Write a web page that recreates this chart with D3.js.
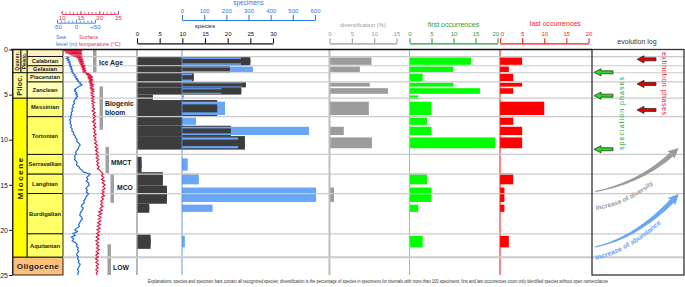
<!DOCTYPE html>
<html>
<head>
<meta charset="utf-8">
<script src="https://cdn.jsdelivr.net/npm/d3@7"></script>
<style>
  body { margin: 0; background: #fff; }
</style>
</head>
<body>
<div id="main"></div>
<script>
const ctx = { W: 685, H: 287, FONT: "Arial, 'Liberation Sans', sans-serif" };

// ---------- data (ages in Ma) ----------
const ageTicks = [0, 5, 10, 15, 20, 25];

const stageNames   = ["", "Calabrian", "Gelasian", "Piacenzian", "Zanclean", "Messinian", "Tortonian", "Serravallian", "Langhian", "Burdigalian", "Aquitanian"];
const stageTops    = [0, 0.78, 1.8, 2.58, 3.6, 5.4, 7.45, 11.63, 13.82, 15.97, 20.44];
const stageBottoms = [0.78, 1.8, 2.58, 3.6, 5.4, 7.45, 11.63, 13.82, 15.97, 20.44, 23.03];

const epochNames   = ["Quater.", "Plioc.", "Miocene", "Oligocene"];
const epochTops    = [0, 2.58, 5.4, 23.03];
const epochBottoms = [2.58, 5.4, 23.03, 25];

const eventNames   = ["Ice Age", "Biogenic bloom", "MMCT", "MCO", "LOW"];
const eventTops    = [0, 4.1, 10.8, 13.8, 21.6];
const eventBottoms = [2.58, 8.9, 13.7, 17.0, 25];

// sample intervals
const binTops      = [0.78, 1.8, 2.58, 3.6, 4.2, 5.0, 5.6, 7.45, 8.45, 9.6, 11.9, 13.6, 15.1, 17.1, 20.5];
const binBottoms   = [1.8, 2.58, 3.6, 4.2, 5.0, 5.6, 7.45, 8.45, 9.6, 11.1, 13.6, 15.1, 17.1, 18.1, 22.1];
const species      = [25, 20.5, 12.5, 24, 23, 3.5, 17.7, 10, 20.7, 23.8, 1, 5.7, 6.6, 2.7, 3];
const specimens    = [266, 320, 45, 270, 177, 9, 194, 63, 573, 253, 26, 76, 605, 138, 13];
const diversification = [9.4, 6.8, null, 9, 13.1, null, 8.8, null, 3.2, 9.5, null, null, 1, null, null];
const firstOcc     = [14, 10, 3, 10, 16, 2, 5, 4, 5, 19.5, 0, 4, 5, 2, 3];
const lastOcc      = [5, 2, 3, 5, 3, 0, 10, 3, 5, 5, 0, 3, 1, 1, 2];

const extinctionPhases = [1.09, 3.82, 6.7];
const speciationPhases = [2.53, 5.12, 11.06];

// [age, m]
const seaLevel = [[0.8,-24],[0.9,-20],[1.0,-25],[1.1,-19],[1.2,-22],[1.3,-17],[1.4,-20],[1.5,-15],[1.6,-18],[1.7,-14],[1.8,-16],[1.9,-12],[2.0,-15],[2.1,-11],[2.2,-13],[2.3,-9],[2.4,-12],[2.5,-8],[2.6,-10],[2.7,-6],[2.8,-3],[2.9,-5],[3.0,0],[3.1,-2],[3.2,3],[3.3,1],[3.4,6],[3.5,4],[3.6,8],[3.7,12],[3.8,10],[3.9,16],[4.0,13],[4.1,8],[4.2,4],[4.3,1],[4.4,-3],[4.5,-1],[4.6,-4],[4.7,0],[4.8,2],[4.9,-1],[5.0,3],[5.1,1],[5.2,4],[5.3,0],[5.4,2],[5.5,-2],[5.6,-3],[5.8,-6],[6.0,-4],[6.2,-9],[6.4,-7],[6.6,-11],[6.8,-9],[7.0,-13],[7.2,-11],[7.4,-15],[7.6,-13],[7.8,-17],[8.0,-14],[8.2,-16],[8.4,-12],[8.6,-14],[8.8,-10],[9.0,-11],[9.2,-6],[9.4,-7],[9.6,-2],[9.8,-1],[10.0,3],[10.2,2],[10.4,8],[10.6,11],[10.8,7],[11.0,6],[11.2,2],[11.4,-1],[11.6,1],[11.8,-4],[12.0,-2],[12.2,-4],[12.4,1],[12.6,3],[12.8,1],[13.0,8],[13.2,10],[13.4,16],[13.6,20],[13.8,37],[14.0,33],[14.2,28],[14.4,31],[14.6,27],[14.8,33],[15.0,35],[15.2,30],[15.4,26],[15.6,30],[15.8,27],[16.0,33],[16.2,29],[16.4,26],[16.6,24],[16.8,20],[17.0,22],[17.2,16],[17.4,14],[17.6,19],[17.8,17],[18.0,13],[18.2,11],[18.4,10],[18.6,15],[18.8,17],[19.0,12],[19.2,10],[19.4,7],[19.6,9],[19.8,2],[20.0,-3],[20.2,4],[20.4,-8],[20.6,-2],[20.8,-12],[21.0,-6],[21.2,-10],[21.4,-2],[21.6,3],[21.8,1],[22.0,6],[22.2,4],[22.4,7],[22.6,3],[22.8,2],[23.0,6],[23.2,4],[23.4,8],[23.6,6],[23.8,11],[24.0,9],[24.2,6],[24.4,4],[24.6,7],[24.8,5],[25.0,5]];

// [age, deg C]
const temperature = [[0,14.5],[0.03,11],[0.07,15],[0.1,10.5],[0.13,15.5],[0.17,11],[0.2,14.8],[0.24,10.8],[0.28,15.3],[0.31,11.5],[0.35,15.2],[0.39,11],[0.42,15.4],[0.46,11.8],[0.5,15],[0.54,12],[0.58,15.5],[0.62,12.5],[0.66,15],[0.7,13],[0.75,15.5],[0.8,13.5],[0.85,15.2],[0.9,14],[0.95,15.6],[1.0,14.2],[1.05,15.4],[1.1,14.3],[1.15,15.8],[1.2,14.6],[1.25,15.5],[1.3,14.4],[1.35,15.9],[1.4,14.8],[1.45,15.6],[1.5,14.7],[1.55,16],[1.6,14.9],[1.65,15.8],[1.7,15],[1.75,16.2],[1.8,15.1],[1.85,16.3],[1.9,15.2],[1.95,16],[2.0,15.3],[2.1,16.4],[2.15,15.4],[2.2,16.2],[2.25,15.5],[2.3,16.5],[2.35,15.6],[2.4,16.3],[2.5,15.8],[2.55,16.6],[2.6,16.2],[2.7,17.4],[2.75,16.5],[2.8,17.8],[2.9,16.8],[2.95,18.2],[3.0,17],[3.1,18.3],[3.15,16.9],[3.2,18],[3.3,17.2],[3.35,18.4],[3.4,17.3],[3.5,18],[3.6,17.4],[3.7,18.1],[3.8,17.6],[3.9,18.4],[4.0,17.7],[4.1,18.3],[4.25,17.6],[4.4,18.5],[4.5,17.9],[4.65,18.6],[4.8,17.8],[4.95,18.4],[5.1,17.9],[5.25,18.6],[5.4,18.0],[5.55,18.5],[5.7,18.0],[5.85,18.7],[6.0,18.1],[6.2,18.6],[6.4,18.2],[6.6,18.8],[6.8,18.1],[7.0,18.9],[7.2,18.3],[7.4,19],[7.6,18.4],[7.8,18.9],[8.0,18.2],[8.2,19],[8.4,18.5],[8.6,19.1],[8.8,18.4],[9.0,19],[9.2,18.6],[9.4,19.2],[9.6,18.5],[9.8,19.1],[10.0,18.7],[10.2,19.3],[10.4,18.8],[10.6,19.5],[10.8,18.9],[11.0,19.6],[11.2,19],[11.4,19.7],[11.6,19.1],[11.8,19.8],[12.0,19.2],[12.2,19.9],[12.4,19.3],[12.6,19.8],[12.8,19.4],[13.0,20],[13.2,19.5],[13.4,20.2],[13.6,20.6],[13.8,21.0],[14.0,20.6],[14.2,21.2],[14.4,20.6],[14.6,21.4],[14.8,20.8],[15.0,21.6],[15.2,21.0],[15.4,21.5],[15.6,20.8],[15.8,21.3],[16.0,20.7],[16.2,21.4],[16.4,20.6],[16.6,21.1],[16.8,20.4],[17.0,20.9],[17.2,20.4],[17.4,21],[17.6,20.2],[17.8,20.8],[18.0,19.9],[18.2,20.6],[18.4,19.7],[18.6,20.5],[18.8,19.8],[19.0,20.4],[19.2,19.6],[19.4,20.3],[19.6,19.5],[19.8,20.2],[20.0,19.4],[20.2,20.1],[20.4,19.3],[20.6,20],[20.8,19.2],[21.0,19.9],[21.2,19.1],[21.4,19.8],[21.6,19.2],[21.8,19.9],[22.0,19.3],[22.2,20],[22.4,19.2],[22.6,19.8],[22.8,19.1],[23.0,19.7],[23.2,19.0],[23.4,19.7],[23.6,19.1],[23.8,19.8],[24.0,19.2],[24.2,19.7],[24.4,19.1],[24.6,19.6],[24.8,19.2],[25.0,19.5]];

const footerText = "Explanations: species and specimen bars contain all recognized species;   diversification is the percentage of species in specimens for intervals with more than 100 specimens;   first and last occurrences count only identified species without open nomenclature";

// ---------- layout ----------
const stageColors = ["#fff3c6", "#fff2ba", "#ffedb3", "#ffffbf", "#ffffb3", "#ffff73", "#ffff66", "#ffff66", "#ffff66", "#ffff66", "#ffff66"];
const epochColors = ["#fff2ae", "#ffff99", "#ffff00", "#fdbf7c"];
const eventX = [93, 99.5, 105.5, 110.5, 107.5];
const eventLabelPos = [[99, 63], [105, 104], [111, 162.5], [117, 188], [113, 268]];

function createViz() {
  const F = ctx.FONT;
  const svg = d3.select("#main").append("svg")
    .attr("width", ctx.W).attr("height", ctx.H)
    .style("background", "#fff");

  const y = d3.scaleLinear().domain([0, 25]).range([49.5, 275]);
  const slX = d3.scaleLinear().domain([-50, 50]).range([57, 95]);
  const tX = d3.scaleLinear().domain([10, 25]).range([61.7, 118]);
  const sX = d3.scaleLinear().domain([0, 30]).range([137, 273]);
  const pX = d3.scaleLinear().domain([0, 600]).range([182, 315]);
  const dX = d3.scaleLinear().domain([0, 15]).range([329.5, 396.5]);
  const fX = d3.scaleLinear().domain([0, 20]).range([409.5, 497.5]);
  const lX = d3.scaleLinear().domain([0, 20]).range([500, 588.5]);

  const bins = binTops.map((t, i) => ({
    top: t, bot: binBottoms[i], sp: species[i], spec: specimens[i],
    div: diversification[i], fo: firstOcc[i], lo: lastOcc[i]
  }));
  const inset = (d, k) => Math.max(0.8, (y(d.bot) - y(d.top)) * k);

  // ---- stratigraphy column ----
  const strat = svg.append("g");
  strat.selectAll(".stage").data(stageNames).enter().append("rect")
    .attr("x", 27).attr("width", 36)
    .attr("y", (d, i) => y(stageTops[i]))
    .attr("height", (d, i) => y(stageBottoms[i]) - y(stageTops[i]))
    .attr("fill", (d, i) => stageColors[i])
    .attr("stroke", "#111").attr("stroke-width", 0.9);
  strat.selectAll(".stageLabel").data(stageNames).enter().append("text")
    .attr("x", 45)
    .attr("y", (d, i) => (y(stageTops[i]) + y(stageBottoms[i])) / 2)
    .attr("dy", "0.35em").attr("text-anchor", "middle")
    .attr("font-family", F).attr("font-size", 5.8).attr("font-weight", "bold")
    .attr("fill", "#222").text(d => d);

  epochNames.forEach((name, i) => {
    const wide = i === 3;
    const split = i === 0;
    strat.append("rect")
      .attr("x", 13).attr("width", wide ? 50 : (split ? 8 : 14))
      .attr("y", y(epochTops[i])).attr("height", y(epochBottoms[i]) - y(epochTops[i]))
      .attr("fill", epochColors[i]).attr("stroke", "#111").attr("stroke-width", 0.9);
    if (split) {
      strat.append("rect")
        .attr("x", 21).attr("width", 6)
        .attr("y", y(epochTops[i])).attr("height", y(epochBottoms[i]) - y(epochTops[i]))
        .attr("fill", epochColors[i]).attr("stroke", "#111").attr("stroke-width", 0.9);
    }
    const cy = (y(epochTops[i]) + y(epochBottoms[i])) / 2;
    if (wide) {
      strat.append("text").attr("x", 38).attr("y", cy).attr("dy", "0.35em")
        .attr("text-anchor", "middle").attr("font-family", F).attr("font-size", 8)
        .attr("font-weight", "bold").attr("letter-spacing", 0.4).attr("fill", "#222").text(name);
    } else {
      const cx = split ? 17 : 20;
      strat.append("text")
        .attr("transform", `translate(${cx},${cy}) rotate(-90)`)
        .attr("dy", "0.35em").attr("text-anchor", "middle")
        .attr("font-family", F).attr("font-weight", "bold")
        .attr("font-size", split ? 5 : (i === 1 ? 7 : 8))
        .attr("letter-spacing", i === 2 ? 1.6 : 0.3)
        .attr("fill", "#222").text(name);
      if (split) {
        strat.append("text")
          .attr("transform", `translate(24,${cy}) rotate(-90)`)
          .attr("dy", "0.35em").attr("text-anchor", "middle")
          .attr("font-family", F).attr("font-weight", "bold").attr("font-size", 4.6)
          .attr("fill", "#222").text("Pleisto.");
      }
    }
  });

  // age axis
  const yAxis = svg.append("g").attr("transform", "translate(12,0)")
    .call(d3.axisLeft(y).tickValues(ageTicks).tickSize(3).tickSizeOuter(0));
  yAxis.attr("font-family", F).attr("font-size", 7);
  yAxis.select(".domain").attr("stroke", "#222");
  yAxis.selectAll(".tick line").attr("stroke", "#222");
  yAxis.selectAll(".tick text").attr("fill", "#222").attr("x", -4);

  // ---- climatic events ----
  svg.selectAll(".event").data(eventNames).enter().append("rect")
    .attr("x", (d, i) => eventX[i]).attr("width", 3.5)
    .attr("y", (d, i) => y(eventTops[i]))
    .attr("height", (d, i) => y(eventBottoms[i]) - y(eventTops[i]))
    .attr("fill", "#a0a0a0");
  eventNames.forEach((name, i) => {
    const t = svg.append("text").attr("x", eventLabelPos[i][0]).attr("y", eventLabelPos[i][1])
      .attr("dy", "0.35em").attr("font-family", F).attr("font-size", 6.8)
      .attr("font-weight", "bold").attr("fill", "#222");
    const parts = name.split(" ");
    if (name === "Biogenic bloom") {
      t.append("tspan").attr("x", eventLabelPos[i][0]).text(parts[0]);
      t.append("tspan").attr("x", eventLabelPos[i][0]).attr("dy", 8.5).text(parts[1]);
    } else {
      t.text(name);
    }
  });

  // ---- species / specimen bars ----
  const bars = svg.append("g");
  bars.selectAll(".spFull").data(bins).enter().append("rect")
    .attr("x", sX(0)).attr("width", d => sX(d.sp) - sX(0))
    .attr("y", d => y(d.top)).attr("height", d => y(d.bot) - y(d.top))
    .attr("fill", "#3d3d3d");
  bars.selectAll(".spec").data(bins).enter().append("rect")
    .attr("x", pX(0)).attr("width", d => pX(d.spec) - pX(0))
    .attr("y", d => y(d.top) + inset(d, 0.1))
    .attr("height", d => y(d.bot) - y(d.top) - 2 * inset(d, 0.1))
    .attr("fill", "#6aa6f6");
  bars.selectAll(".spInner").data(bins).enter().append("rect")
    .attr("x", sX(0)).attr("width", d => sX(d.sp) - sX(0))
    .attr("y", d => y(d.top) + inset(d, 0.26))
    .attr("height", d => y(d.bot) - y(d.top) - 2 * inset(d, 0.26))
    .attr("fill", "#3d3d3d");

  const barSet = (data, scale, key, color) => {
    bars.selectAll(null).data(data.filter(d => d[key])).enter().append("rect")
      .attr("x", scale(0)).attr("width", d => scale(d[key]) - scale(0))
      .attr("y", d => y(d.top) + inset(d, 0.1))
      .attr("height", d => y(d.bot) - y(d.top) - 2 * inset(d, 0.1))
      .attr("fill", color);
  };
  barSet(bins, dX, "div", "#9c9c9c");
  barSet(bins, fX, "fo", "#00ff00");
  barSet(bins, lX, "lo", "#ff0000");

  // zero lines
  const zeroLine = (x, color, w) => svg.append("line")
    .attr("x1", x).attr("x2", x).attr("y1", y(0)).attr("y2", y(25))
    .attr("stroke", color).attr("stroke-width", w);
  zeroLine(sX(0), "#9a9a9a", 1.4);
  zeroLine(pX(0), "#4f8fe8", 0.9);
  zeroLine(dX(0), "#bdbdbd", 2);
  zeroLine(fX(0), "#66ee66", 1.1);
  zeroLine(lX(0), "#ff2020", 1.1);

  // stage grid lines
  svg.selectAll(".grid").data(stageBottoms).enter().append("line")
    .attr("x1", 63).attr("x2", 684)
    .attr("y1", d => y(d)).attr("y2", d => y(d))
    .attr("stroke", "#cbcbcb").attr("stroke-width", (d, i) => i === stageBottoms.length - 1 ? 2 : 1.2);

  // ---- sea level and temperature ----
  const slLine = d3.line().x(d => slX(d[1])).y(d => y(d[0]));
  const tLine = d3.line().x(d => tX(d[1])).y(d => y(d[0]));
  svg.append("path").attr("d", tLine(temperature))
    .attr("fill", "none").attr("stroke", "#e3173f").attr("stroke-width", 1.2);
  svg.append("path").attr("d", slLine(seaLevel))
    .attr("fill", "none").attr("stroke", "#1f6ad8").attr("stroke-width", 1.2);

  // top frame line
  svg.append("line").attr("x1", 11).attr("x2", 592).attr("y1", y(0)).attr("y2", y(0))
    .attr("stroke", "#111").attr("stroke-width", 1.6);

  // ---- top axes ----
  function styleAxis(g, color, fs) {
    g.attr("font-family", F).attr("font-size", fs);
    g.select(".domain").attr("stroke", color).attr("stroke-width", 1.2);
    g.selectAll(".tick line").attr("stroke", color).attr("stroke-width", 1.1);
    g.selectAll(".tick text").attr("fill", color);
  }
  function topAxis(scale, values, yPos, color, fs) {
    const g = svg.append("g").attr("transform", `translate(0,${yPos})`)
      .call(d3.axisTop(scale).tickValues(values).tickSize(5).tickSizeOuter(0).tickPadding(2.5));
    styleAxis(g, color, fs);
    return g;
  }
  topAxis(sX, d3.range(0, 31, 5), 43.3, "#111", 6);
  topAxis(pX, d3.range(0, 601, 100), 20, "#2f7be6", 6);
  topAxis(dX, d3.range(0, 16, 5), 43.3, "#9a9a9a", 6);
  const foAxis = topAxis(fX, d3.range(0, 21, 5), 43.3, "#20a040", 6);
  const loAxis = topAxis(lX, d3.range(0, 21, 5), 43.3, "#ff1a1a", 6);
  foAxis.selectAll(".tick text").filter(d => d === 20).attr("dx", -2.2);
  loAxis.selectAll(".tick text").filter(d => d === 0).attr("dx", 1.8);

  const title = (txt, x, yy, color, fs) => svg.append("text")
    .attr("x", x).attr("y", yy).attr("dy", "0.35em").attr("text-anchor", "middle")
    .attr("font-family", F).attr("font-size", fs).attr("fill", color).text(txt);
  title("species", sX(15), 26, "#222", 6);
  title("specimens", pX(300), 3, "#2f7be6", 6.4);
  title("diversification (%)", dX(7.5), 24.5, "#9a9a9a", 5.8);
  title("first occurrences", fX(10), 24.3, "#20a040", 7);
  title("last occurrences", lX(12.5), 23.3, "#ff1a1a", 7);

  // temperature and sea-level rulers (ticks up, labels below)
  function ruler(scale, major, minor, yPos, color, fmt) {
    const gm = svg.append("g").attr("transform", `translate(0,${yPos})`)
      .call(d3.axisBottom(scale).tickValues(minor).tickSize(-2.2).tickSizeOuter(0).tickFormat(""));
    styleAxis(gm, color, 6);
    gm.select(".domain").attr("stroke-width", 0.9);
    gm.selectAll(".tick line").attr("stroke-width", 0.7);
    const g = svg.append("g").attr("transform", `translate(0,${yPos})`)
      .call(d3.axisBottom(scale).tickValues(major).tickSize(-3).tickSizeOuter(0).tickPadding(1.5).tickFormat(fmt));
    styleAxis(g, color, 6.2);
    g.select(".domain").remove();
    g.selectAll(".tick line").attr("stroke-width", 0.8);
  }
  ruler(tX, [10, 15, 20, 25], d3.range(10, 26, 1), 14, "#e0305a", d => d);
  ruler(slX, [-50, 0, 50], d3.range(-50, 51, 10), 22.7, "#2f7be6", d => (d > 0 ? "+" : "") + d);

  const lab = (txt, x, yy, color) => svg.append("text").attr("x", x).attr("y", yy)
    .attr("dy", "0.35em").attr("font-family", F).attr("font-size", 5.6).attr("fill", color).text(txt);
  lab("Sea", 56, 37, "#2f7be6");
  lab("level (m)", 56, 44, "#2f7be6");
  lab("Surface", 79, 37, "#e0305a");
  lab("temperature (\u00b0C)", 79, 44, "#e0305a");

  // ---- evolution log ----
  svg.append("rect").attr("x", 592).attr("y", y(0)).attr("width", 92).attr("height", y(25) - y(0))
    .attr("fill", "none").attr("stroke", "#333").attr("stroke-width", 1.3);
  title("evolution log", 637, 42, "#333", 7);

  const smallArrow = (x0, yc) => d3.line()([
    [x0, yc], [x0 + 7, yc - 3.6], [x0 + 7, yc - 1.5], [x0 + 19, yc - 1.5],
    [x0 + 19, yc + 1.5], [x0 + 7, yc + 1.5], [x0 + 7, yc + 3.6]
  ]) + "Z";
  svg.selectAll(".ext").data(extinctionPhases).enter().append("path")
    .attr("d", d => smallArrow(637, y(d)))
    .attr("fill", "#e00000").attr("stroke", "#222").attr("stroke-width", 0.7);
  svg.selectAll(".spc").data(speciationPhases).enter().append("path")
    .attr("d", d => smallArrow(594, y(d)))
    .attr("fill", "#22dd22").attr("stroke", "#222").attr("stroke-width", 0.7);

  svg.append("text").attr("transform", `translate(664,83.5) rotate(90)`)
    .attr("dy", "0.35em").attr("text-anchor", "middle")
    .attr("font-family", F).attr("font-size", 7).attr("fill", "#e8101a")
    .attr("textLength", 63).attr("lengthAdjust", "spacing").text("extinction phases");
  svg.append("text").attr("transform", `translate(622,113.5) rotate(-90)`)
    .attr("dy", "0.35em").attr("text-anchor", "middle")
    .attr("font-family", F).attr("font-size", 7).attr("fill", "#21a03c")
    .attr("textLength", 73).attr("lengthAdjust", "spacing").text("speciation phases");

  // trend arrows (tapered quadratic curve + head)
  function trendArrow(p0, p1, q, color, headLen) {
    const bez = t => [
      (1 - t) * (1 - t) * p0[0] + 2 * (1 - t) * t * p1[0] + t * t * q[0],
      (1 - t) * (1 - t) * p0[1] + 2 * (1 - t) * t * p1[1] + t * t * q[1]];
    const der = t => [
      2 * (1 - t) * (p1[0] - p0[0]) + 2 * t * (q[0] - p1[0]),
      2 * (1 - t) * (p1[1] - p0[1]) + 2 * t * (q[1] - p1[1])];
    const left = [], right = [];
    d3.range(0, 1.0001, 1 / 30).forEach(t => {
      const p = bez(t), dv = der(t), L = Math.hypot(dv[0], dv[1]);
      const nx = -dv[1] / L, ny = dv[0] / L, w = 0.5 + 2.0 * t;
      left.push([p[0] + nx * w, p[1] + ny * w]);
      right.push([p[0] - nx * w, p[1] - ny * w]);
    });
    svg.append("path").attr("d", d3.line()(left.concat(right.reverse())) + "Z").attr("fill", color);
    const dv = der(1), L = Math.hypot(dv[0], dv[1]);
    const ux = dv[0] / L, uy = dv[1] / L, nx = -uy, ny = ux, hw = 5.2;
    const tip = [q[0] + ux * headLen, q[1] + uy * headLen];
    svg.append("path").attr("d", d3.line()([
      tip, [q[0] + nx * hw - ux * 1.5, q[1] + ny * hw - uy * 1.5],
      [q[0], q[1]], [q[0] - nx * hw - ux * 1.5, q[1] - ny * hw - uy * 1.5]]) + "Z")
      .attr("fill", color);
  }
  trendArrow([595, 191.5], [640, 183], [672, 154], "#9c9c9c", 9);
  trendArrow([595, 247], [636, 238], [672.5, 200.5], "#6aa6f6", 9);

  const defs = svg.append("defs");
  defs.append("path").attr("id", "divPath").attr("d", "M596,210 Q636,204 666,172");
  defs.append("path").attr("id", "abuPath").attr("d", "M596,260 Q634,251 671,214");
  svg.append("text").attr("font-family", F).attr("font-size", 6.6).attr("font-weight", "bold")
    .attr("fill", "#9c9c9c")
    .append("textPath").attr("href", "#divPath").text("increase of diversity");
  svg.append("text").attr("font-family", F).attr("font-size", 7).attr("font-weight", "bold")
    .attr("fill", "#6aa6f6")
    .append("textPath").attr("href", "#abuPath").text("increase of abundance");

  // footer
  svg.append("text").attr("x", 148).attr("y", 282.5)
    .attr("font-family", F).attr("font-size", 4.6).attr("fill", "#333")
    .attr("textLength", 460).attr("lengthAdjust", "spacingAndGlyphs").text(footerText);
}

createViz();
</script>
</body>
</html>
